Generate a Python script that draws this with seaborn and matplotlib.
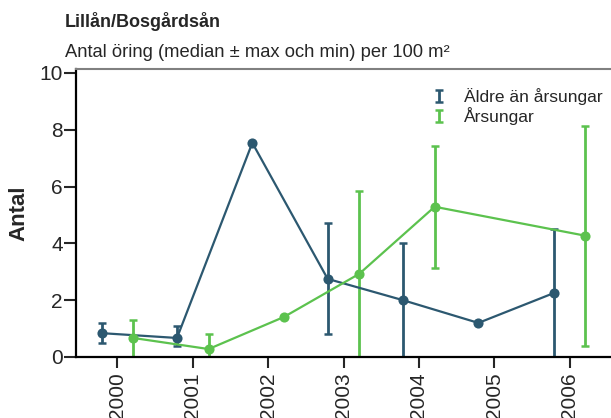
import numpy as np
import pandas as pd
import matplotlib.pyplot as plt
import seaborn as sns
from matplotlib.legend_handler import HandlerErrorbar

years = ["2000", "2001", "2002", "2003", "2004", "2005", "2006"]
# Äldre än årsungar: median, min, max
aldre_median = [0.84, 0.67, 7.54, 2.75, 2.0, 1.2, 2.25]
aldre_min = [0.49, 0.39, np.nan, 0.81, 0.0, np.nan, 0.0]
aldre_max = [1.19, 1.1, np.nan, 4.73, 4.01, np.nan, 4.5]
# Årsungar: median, min, max
arsung_median = [0.67, 0.28, 1.41, 2.93, 5.29, np.nan, 4.27]
arsung_min = [0.0, 0.0, np.nan, 0.0, 3.13, np.nan, 0.39]
arsung_max = [1.3, 0.81, np.nan, 5.83, 7.44, np.nan, 8.13]

groups = ["Äldre än årsungar", "Årsungar"]
colors = {"Äldre än årsungar": "#2c5870", "Årsungar": "#5cc24e"}
offsets = {"Äldre än årsungar": -0.21, "Årsungar": 0.21}

rows = []
for g, med, lo, hi in [(groups[0], aldre_median, aldre_min, aldre_max),
                       (groups[1], arsung_median, arsung_min, arsung_max)]:
    for i, y in enumerate(years):
        rows.append({"grupp": g, "x": i + offsets[g], "median": med[i], "lo": lo[i], "hi": hi[i]})
df = pd.DataFrame(rows)

sns.set_style("ticks")
plt.rcParams["font.family"] = ["Liberation Sans", "DejaVu Sans"]

fig = plt.figure(figsize=(6.11, 4.18), dpi=100)
ax = fig.add_axes([76 / 611, 1 - 357 / 418, 1 - 76 / 611, (357 - 69) / 418])

# error bars (min/max)
handles = []
for g in groups:
    sub = df[(df["grupp"] == g) & df["lo"].notna()]
    eb = ax.errorbar(sub["x"], sub["median"],
                     yerr=[sub["median"] - sub["lo"], sub["hi"] - sub["median"]],
                     fmt="none", ecolor=colors[g], elinewidth=2, capsize=3, capthick=1.8, zorder=2)
    handles.append(eb)

sns.lineplot(data=df.dropna(subset=["median"]), x="x", y="median", hue="grupp",
             palette=colors, marker="o", markersize=7.3, markeredgewidth=0,
             linewidth=1.6, sort=True, legend=False, ax=ax, zorder=3)

ax.set_xlim(-0.55, 6.55)
ax.set_ylim(0, 10.14)
ax.set_xticks(range(len(years)))
ax.set_xticklabels(years, rotation=90, fontsize=15)
ax.set_yticks(range(0, 11, 2))
ax.tick_params(axis="y", labelsize=15, length=8.5, width=1.5, direction="out", pad=1)
ax.tick_params(axis="x", length=8, width=1.5, direction="out", pad=3)
ax.set_xlabel("")
ax.set_ylabel("Antal", fontsize=16, fontweight="bold", labelpad=7)

for s in ["left", "bottom"]:
    ax.spines[s].set_linewidth(1.6)
    ax.spines[s].set_color("black")
ax.spines["top"].set_color("#808080")
ax.spines["top"].set_linewidth(1.5)
ax.spines["right"].set_visible(False)

ax.legend(handles, groups, loc="upper left", bbox_to_anchor=(0.65, 0.965),
          frameon=False, fontsize=12.5, handlelength=0.8, handletextpad=1.0,
          borderpad=0, labelspacing=0.15,
          handler_map={type(handles[0]): HandlerErrorbar(xerr_size=0.35)})

fig.text(65 / 611, 1 - 27 / 418, "Lillån/Bosgårdsån", fontsize=13, fontweight="bold", va="baseline")
fig.text(65 / 611, 1 - 57 / 418, "Antal öring (median ± max och min) per 100 m²", fontsize=13.2, va="baseline")

fig.savefig("out.png", dpi=100)
